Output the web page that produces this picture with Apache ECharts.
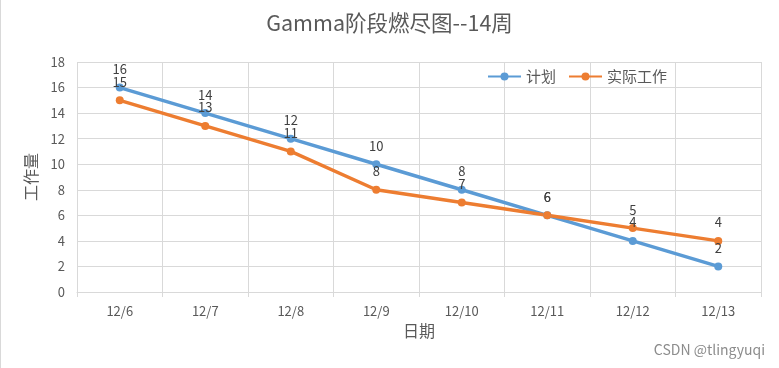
<!DOCTYPE html>
<html><head><meta charset="utf-8">
<script src="https://cdn.jsdelivr.net/npm/echarts@6/dist/echarts.min.js"></script>
<style>html,body{margin:0;padding:0;background:#fff}#c{width:779px;height:368px}</style>
</head><body><div id="c"></div>
<script>
var categories = ['12/6','12/7','12/8','12/9','12/10','12/11','12/12','12/13'];
var planValues = [16,14,12,10,8,6,4,2];
var actualValues = [15,13,11,8,7,6,5,4];
var seriesNames = ['计划','实际工作'];
var FONT = '"Noto Sans CJK SC", "Noto Sans", sans-serif';
var chart = echarts.init(document.getElementById('c'), null, {renderer:'canvas'});
function mk(name, data, color){
  return {
    name: name, type: 'line', data: data,
    symbol: 'circle', symbolSize: 8,
    lineStyle: {width: 3.5, color: color},
    itemStyle: {color: color},
    label: {show: true, position: 'top', distance: 8, color: '#404040', fontSize: 13, fontFamily: FONT},
    emphasis: {disabled: true}, animation: false
  };
}
chart.setOption({
  animation: false,
  title: {text: 'Gamma阶段燃尽图--14周', left: 'center', top: 7,
    textStyle: {fontSize: 21.5, fontWeight: 'normal', color: '#595959', fontFamily: FONT}},
  legend: {left: 482, top: 64, itemWidth: 33, itemHeight: 10, itemGap: 12,
    textStyle: {color: '#595959', fontSize: 15, fontFamily: FONT}, data: seriesNames},
  grid: {left: 77, right: 18, top: 62, bottom: 76},
  xAxis: {type: 'category', data: categories, boundaryGap: true,
    name: '日期', nameLocation: 'middle', nameGap: 31,
    nameTextStyle: {color: '#595959', fontSize: 16, fontFamily: FONT},
    axisLine: {lineStyle: {color: '#d9d9d9'}},
    axisTick: {show: true, length: 5, lineStyle: {color: '#d9d9d9'}},
    axisLabel: {color: '#595959', fontSize: 13, margin: 13, fontFamily: FONT},
    splitLine: {show: true, lineStyle: {color: '#d9d9d9'}}},
  yAxis: {type: 'value', min: 0, max: 18, interval: 2,
    name: '工作量', nameLocation: 'middle', nameGap: 38, nameRotate: 90,
    nameTextStyle: {color: '#595959', fontSize: 16, fontFamily: FONT},
    axisLine: {show: false}, axisTick: {show: false},
    axisLabel: {color: '#595959', fontSize: 13, margin: 12, fontFamily: FONT},
    splitLine: {lineStyle: {color: '#d9d9d9'}}},
  series: [mk(seriesNames[0], planValues, '#5B9BD5'), mk(seriesNames[1], actualValues, '#ED7D31')],
  graphic: [
    {type: 'line', shape: {x1: 0.5, y1: 0, x2: 0.5, y2: 368}, style: {stroke: '#d9d9d9', lineWidth: 1}},
    {type: 'text', right: 14, top: 343, style: {text: 'CSDN @tlingyuqi', fill: '#8c8c8c', fontSize: 14, fontFamily: FONT}}
  ]
});
</script></body></html>
